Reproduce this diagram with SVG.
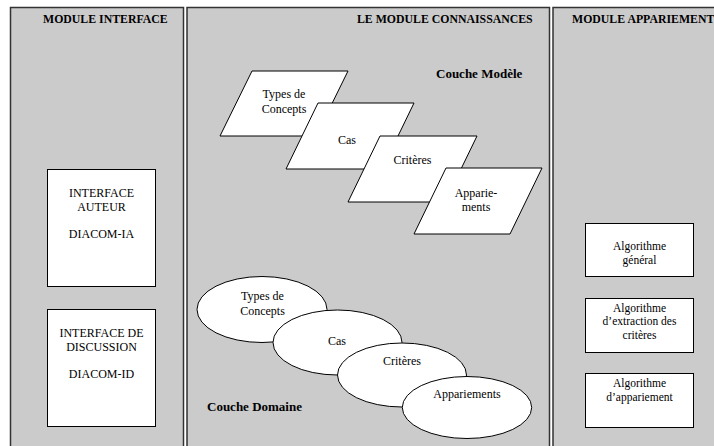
<svg xmlns="http://www.w3.org/2000/svg" width="714" height="446" viewBox="0 0 714 446">
<style>
.panel{fill:#cbcbcb;stroke:#333;stroke-width:1.5}
.title{font-family:"Liberation Serif",serif;font-weight:bold;font-size:11.8px;fill:#000}
.layer{font-family:"Liberation Serif",serif;font-weight:bold;font-size:13px;fill:#000}
.shape{fill:#fff;stroke:#000;stroke-width:1}
.t{font-family:"Liberation Serif",serif;font-size:12px;fill:#000;text-anchor:middle}
.ts{font-family:"Liberation Serif",serif;font-size:11.5px;fill:#000;text-anchor:middle}
</style>
<rect width="714" height="446" fill="#fff"/>
<g id="panel-interface">
<rect class="panel" x="10.5" y="7.5" width="173" height="450"/>
<text class="title" x="43" y="23">MODULE INTERFACE</text>
</g>
<g id="panel-connaissances">
<rect class="panel" x="187" y="7.5" width="362.5" height="450"/>
<text class="title" x="357" y="23">LE MODULE CONNAISSANCES</text>
<text class="layer" x="436" y="78">Couche Modèle</text>
<text class="layer" x="207" y="411">Couche Domaine</text>
</g>
<g id="panel-appariement">
<rect class="panel" x="553" y="7.5" width="200" height="450"/>
<text class="title" x="572" y="23">MODULE APPARIEMENT</text>
</g>
<g id="interface-auteur">
<rect class="shape" x="47.5" y="169.5" width="108" height="117"/>
<text class="t" x="101.5" y="197">INTERFACE</text>
<text class="t" x="101.5" y="211">AUTEUR</text>
<text class="t" x="101.5" y="238">DIACOM-IA</text>
</g>
<g id="interface-discussion">
<rect class="shape" x="47.5" y="309.5" width="108" height="117"/>
<text class="t" x="101.5" y="337">INTERFACE DE</text>
<text class="t" x="101.5" y="350.5">DISCUSSION</text>
<text class="t" x="101.5" y="378">DIACOM-ID</text>
</g>
<g id="modele-types">
<polygon class="shape" points="252,71 348,71 316,136 220,136"/>
<text class="t" x="284" y="98">Types de</text>
<text class="t" x="284" y="113">Concepts</text>
</g>
<g id="modele-cas">
<polygon class="shape" points="318,103 414,103 382,169 286,169"/>
<text class="t" x="347" y="144">Cas</text>
</g>
<g id="modele-criteres">
<polygon class="shape" points="380,136 477,136 445,202 348,202"/>
<text class="t" x="412.5" y="164">Critères</text>
</g>
<g id="modele-appariements">
<polygon class="shape" points="446,168 542,168 510,234 414,234"/>
<text class="t" x="476" y="197">Apparie-</text>
<text class="t" x="476" y="211">ments</text>
</g>
<g id="domaine-types">
<ellipse class="shape" cx="262" cy="309.5" rx="65" ry="33"/>
<text class="t" x="262.5" y="300">Types de</text>
<text class="t" x="262.5" y="315">Concepts</text>
</g>
<g id="domaine-cas">
<ellipse class="shape" cx="337.5" cy="342.5" rx="64.5" ry="32.5"/>
<text class="t" x="337" y="345">Cas</text>
</g>
<g id="domaine-criteres">
<ellipse class="shape" cx="402" cy="375" rx="64.5" ry="32"/>
<text class="t" x="402" y="365">Critères</text>
</g>
<g id="domaine-appariements">
<ellipse class="shape" cx="467" cy="407.5" rx="64.7" ry="31"/>
<text class="t" x="467" y="398">Appariements</text>
</g>
<g id="algo-general">
<rect class="shape" x="585.5" y="223.5" width="108" height="53"/>
<text class="ts" x="639.5" y="250">Algorithme</text>
<text class="ts" x="639.5" y="263.5">général</text>
</g>
<g id="algo-extraction">
<rect class="shape" x="585.5" y="298.5" width="108" height="54"/>
<text class="ts" x="639.5" y="311.5">Algorithme</text>
<text class="ts" x="639.5" y="325">d’extraction des</text>
<text class="ts" x="639.5" y="338.5">critères</text>
</g>
<g id="algo-appariement">
<rect class="shape" x="585.5" y="373.5" width="108" height="54"/>
<text class="ts" x="639.5" y="387">Algorithme</text>
<text class="ts" x="639.5" y="400.5">d’appariement</text>
</g>
<g id="connectors"></g>
</svg>
